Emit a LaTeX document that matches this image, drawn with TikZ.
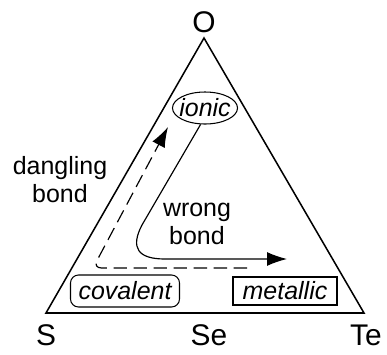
\documentclass[tikz,border=0pt]{standalone}
\usepackage{fontspec}
\setmainfont{Liberation Sans}
\usetikzlibrary{arrows.meta, shapes.geometric, positioning}

\begin{document}
\begin{tikzpicture}[x=0.03cm, y=-0.03cm,
    vertex/.style={font=\fontsize{25.5}{28}\selectfont, inner sep=0pt},
    note/.style={font=\fontsize{21.3}{24}\selectfont, align=center, inner sep=0pt},
    bondtype/.style={draw, line width=0.9pt, font=\fontsize{21.3}{24}\selectfont\itshape, inner sep=0pt, minimum height=0.96cm},
    edge/.style={line width=1.3pt, line join=miter},
    line/.style={draw, line width=1pt, -{Latex[length=0.6cm, width=0.42cm]}},
    dline/.style={line, dash pattern=on 0.4cm off 0.2cm}]
    \useasboundingbox (0,0) rectangle (387,354);

    % corners of the triangle
    \coordinate (apex) at (204,38);
    \coordinate (left) at (46,313);
    \coordinate (right) at (364,313);
    \draw [edge] (apex) -- (left) -- (right) -- cycle;

    \node [vertex] (lO) at (204,22) {O};
    \node [vertex] (lS) at (46,335) {S};
    \node [vertex] (lSe) at (209,335) {Se};
    \node [vertex] (lTe) at (366,335) {Te};

    % bonding types
    \node [bondtype, ellipse, inner xsep=-0.08cm] (ionic) at (205,108) {ionic};
    \node [bondtype, rectangle, rounded corners=0.24cm, minimum width=3.27cm] (covalent) at (125,291) {covalent};
    \node [bondtype, rectangle, minimum width=3.12cm, minimum height=0.84cm] (metallic) at (285,291) {metallic};

    \node [note] (dangling) at (60,180) {dangling\\bond};
    \node [note] (wrong) at (197,224) {wrong\\bond};

    % paths
    \coordinate (dstart) at (247,268);
    \coordinate (dcorner) at (93,268);
    \coordinate (dtip) at (168,127);
    \draw [dline, rounded corners=0.25cm] (dstart) -- (dcorner) -- (dtip);

    \coordinate (wtip) at (287,259);
    \draw [line] (ionic.255) -- (142,225) .. controls (130,248) and (138,259) .. (165,259) -- (wtip);
\end{tikzpicture}
\end{document}
